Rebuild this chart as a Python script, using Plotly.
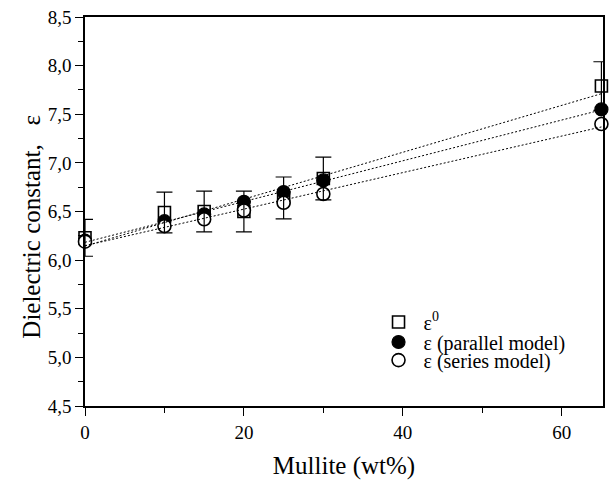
import numpy as np
import plotly.graph_objects as go

# Data
mullite = [0, 10, 15, 20, 25, 30, 65]
eps0 = [6.23, 6.49, 6.50, 6.50, 6.64, 6.84, 7.79]
eps0_err = [0.19, 0.21, 0.21, 0.21, 0.215, 0.22, 0.25]
eps_parallel = [6.20, 6.40, 6.47, 6.60, 6.70, 6.82, 7.55]
eps_series = [6.19, 6.35, 6.42, 6.51, 6.59, 6.68, 7.40]

x_ticks = [0, 20, 40, 60]
y_ticks = [4.5, 5.0, 5.5, 6.0, 6.5, 7.0, 7.5, 8.0, 8.5]
y_ticklabels = ["4,5", "5,0", "5,5", "6,0", "6,5", "7,0", "7,5", "8,0", "8,5"]

FONT = "Liberation Serif"

fig = go.Figure()

fig.add_trace(go.Scatter(
    x=mullite, y=eps0, mode="markers", name="ε<sup>0</sup>", legend="legend",
    marker=dict(symbol="square", size=12, color="white",
                line=dict(color="black", width=1.6)),
    cliponaxis=False))
fig.add_trace(go.Scatter(
    x=mullite, y=eps_parallel, mode="markers", name="ε (parallel model)",
    legend="legend2",
    marker=dict(symbol="circle", size=13, color="black",
                line=dict(color="black", width=1.2)),
    cliponaxis=False))
fig.add_trace(go.Scatter(
    x=mullite, y=eps_series, mode="markers", name="ε (series model)",
    legend="legend3",
    marker=dict(symbol="circle", size=13, color="white",
                line=dict(color="black", width=1.6)),
    cliponaxis=False))

# error bars on top
fig.add_trace(go.Scatter(
    x=mullite, y=eps0, mode="markers", showlegend=False, hoverinfo="skip",
    marker=dict(size=1, color="rgba(0,0,0,0)"),
    error_y=dict(type="data", array=eps0_err, visible=True,
                 color="black", thickness=1.2, width=8),
    cliponaxis=True))

# linear fits (dotted)
xfit = np.array([min(mullite), max(mullite)], dtype=float)
for series in (eps0, eps_parallel, eps_series):
    coef = np.polyfit(mullite, series, 1)
    fig.add_trace(go.Scatter(
        x=xfit, y=np.polyval(coef, xfit), mode="lines", showlegend=False,
        hoverinfo="skip", line=dict(color="black", width=1, dash="2px,2px"),
        cliponaxis=False))

axis_common = dict(showline=True, linecolor="black", linewidth=1.5,
                   mirror=True, showgrid=False, zeroline=False,
                   ticks="outside", tickcolor="black", tickwidth=1.3,
                   ticklen=8, automargin=False,
                   tickfont=dict(family=FONT, size=19, color="black"))

fig.update_xaxes(range=[0, 65.2], tickvals=x_ticks,
                 minor=dict(dtick=10, tick0=0, ticks="outside", ticklen=5,
                            tickcolor="black", tickwidth=1.2),
                 title=dict(text="Mullite (wt%)",
                            font=dict(family=FONT, size=25, color="black"),
                            standoff=16),
                 **axis_common)
fig.update_yaxes(range=[4.5, 8.5], tickvals=y_ticks, ticktext=y_ticklabels,
                 minor=dict(dtick=0.25, tick0=4.5, ticks="outside", ticklen=5,
                            tickcolor="black", tickwidth=1.2),
                 **axis_common)

fig.add_annotation(text="Dielectric constant,   ε", textangle=-90,
                   xref="paper", yref="paper", x=-0.105, y=0.46,
                   xanchor="center", yanchor="middle", showarrow=False,
                   font=dict(family=FONT, size=25, color="black"))

leg_common = dict(x=0.557, xanchor="left", yanchor="middle",
                  bgcolor="rgba(0,0,0,0)", itemwidth=40,
                  font=dict(family=FONT, size=20, color="black"))
fig.update_layout(
    width=610, height=480,
    margin=dict(l=85, r=7, t=17, b=74),
    paper_bgcolor="white", plot_bgcolor="white",
    font=dict(family=FONT, color="black"),
    legend=dict(y=0.216, **leg_common),
    legend2=dict(y=0.1645, **leg_common),
    legend3=dict(y=0.118, **leg_common),
)

fig.write_html("out.html", config={"displayModeBar": False},
               post_script="document.body.style.margin='0';"
                           "document.body.style.overflow='hidden';")
